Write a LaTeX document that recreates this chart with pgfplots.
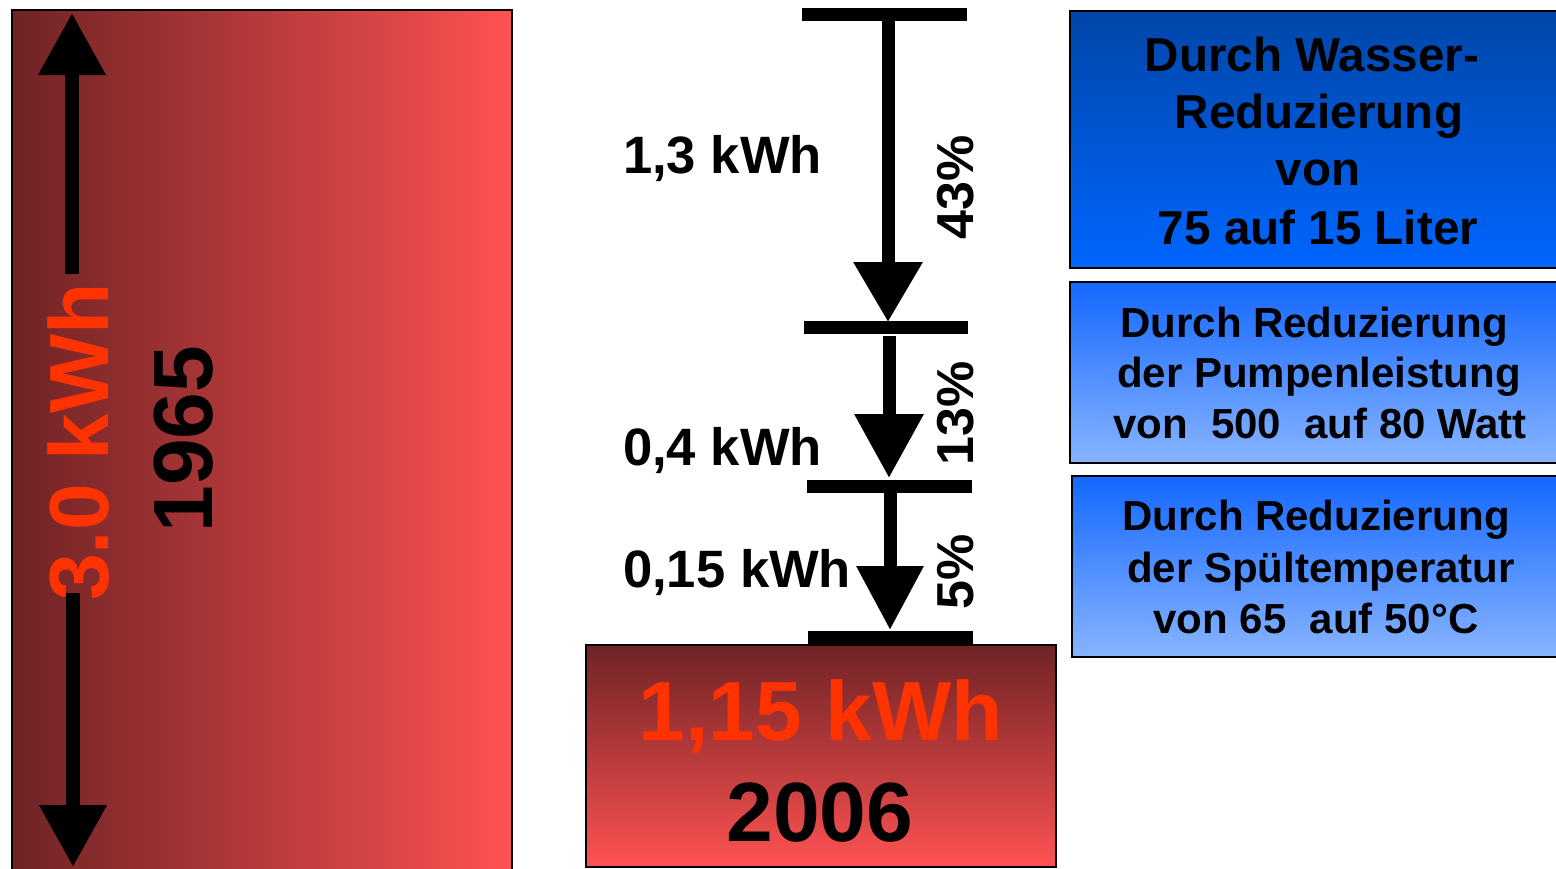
\documentclass[border=0pt]{standalone}
\usepackage{fontspec}
\setmainfont{Liberation Sans}
\usepackage{pgfplots}
\pgfplotsset{compat=1.18}
\usetikzlibrary{arrows.meta}

\definecolor{rotdunkel}{RGB}{111,35,37}
\definecolor{rothell}{RGB}{255,82,82}
\definecolor{blaudunkel}{RGB}{0,70,168}
\definecolor{blaumittel}{RGB}{0,102,255}
\definecolor{blaukopf}{RGB}{20,104,255}
\definecolor{blauhell}{RGB}{136,180,255}
\definecolor{kwhrot}{RGB}{255,51,0}

\newcommand{\fs}[1]{\fontsize{#1}{#1}\selectfont\bfseries}

\begin{document}
\begin{tikzpicture}
\begin{axis}[
  name=ax,
  hide axis,
  scale only axis,
  width=778pt, height=434pt,
  xmin=0, xmax=1556,
  ymin=0, ymax=868,
  y dir=reverse,
  every node/.style={inner sep=0pt},
]
% Balken 1965 und 2006 (nicht massstaeblich)
\addplot[draw=black, line width=1.2pt, left color=rotdunkel, right color=rothell]
  coordinates {(12,10) (512,10) (512,880) (12,880)} --cycle;
\addplot[draw=black, line width=1.2pt, top color=rotdunkel, bottom color=rothell]
  coordinates {(586,645) (1056,645) (1056,867) (586,867)} --cycle;

% Erklaerungskaesten
\addplot[draw=black, line width=1.2pt, top color=blaudunkel, bottom color=blaumittel]
  coordinates {(1070,11) (1565,11) (1565,268) (1070,268)} --cycle;
\addplot[draw=black, line width=1.2pt, top color=blaukopf, bottom color=blauhell]
  coordinates {(1070,282) (1565,282) (1565,463) (1070,463)} --cycle;
\addplot[draw=black, line width=1.2pt, top color=blaukopf, bottom color=blauhell]
  coordinates {(1072,476) (1565,476) (1565,657) (1072,657)} --cycle;

% Doppelpfeil 3,0 kWh
\addplot[line width=6.8pt, -{Triangle[width=32pt,length=31pt]}]
  coordinates {(72,274) (72,13)};
\addplot[line width=6.8pt, -{Triangle[width=32pt,length=31pt]}]
  coordinates {(73,593) (73,867)};

% Stufen
\addplot[line width=6.5pt] coordinates {(802,14) (967,14)};
\addplot[line width=6.5pt] coordinates {(804,327) (968,327)};
\addplot[line width=6.5pt] coordinates {(807,486) (972,486)};
\addplot[line width=6.5pt] coordinates {(808,637) (973,637)};

\addplot[line width=6.5pt, -{Triangle[width=33pt,length=30pt]}]
  coordinates {(888,20) (888,322)};
\addplot[line width=6.5pt, -{Triangle[width=33pt,length=32pt]}]
  coordinates {(889,336) (889,478)};
\addplot[line width=6.5pt, -{Triangle[width=32pt,length=32pt]}]
  coordinates {(890,492) (890,630)};

% Beschriftungen
\node[rotate=90, anchor=base, text=kwhrot] at (108,442) {\fs{42}3.0 kWh};
\node[rotate=90, anchor=base] at (212,439) {\fs{42}1965};

\node[anchor=base, text=kwhrot] at (821,740) {\fs{42}1,15 kWh};
\node[anchor=base] at (820,841) {\fs{42}2006};

\node[anchor=base west] at (616,173) {\fs{26.3}1,3 kWh};
\node[anchor=base west] at (616,465) {\fs{26.3}0,4 kWh};
\node[anchor=base west] at (616,587) {\fs{26.3}0,15 kWh};

\node[rotate=90, anchor=base] at (973,187) {\fs{26}43\%};
\node[rotate=90, anchor=base] at (973,413) {\fs{26}13\%};
\node[rotate=90, anchor=base] at (973,572) {\fs{26}5\%};

\node[anchor=base] at (1312,71) {\fs{23.8}Durch Wasser-};
\node[anchor=base] at (1319,128) {\fs{23.8}Reduzierung};
\node[anchor=base] at (1318,185) {\fs{23.8}von};
\node[anchor=base] at (1318,244) {\fs{23.8}75 auf 15 Liter};

\node[anchor=base] at (1314,337) {\fs{21}Durch Reduzierung};
\node[anchor=base] at (1319,387) {\fs{21}der Pumpenleistung};
\node[anchor=base] at (1320,438) {\fs{21}von\ \ 500\ \ auf 80 Watt};

\node[anchor=base] at (1316,530) {\fs{21}Durch Reduzierung};
\node[anchor=base] at (1321,582) {\fs{21}der Spültemperatur};
\node[anchor=base] at (1316,633) {\fs{21}von 65\ \ auf 50°C};
\end{axis}
\pgfresetboundingbox
\path (ax.south west) rectangle (ax.north east);
\end{tikzpicture}
\end{document}
